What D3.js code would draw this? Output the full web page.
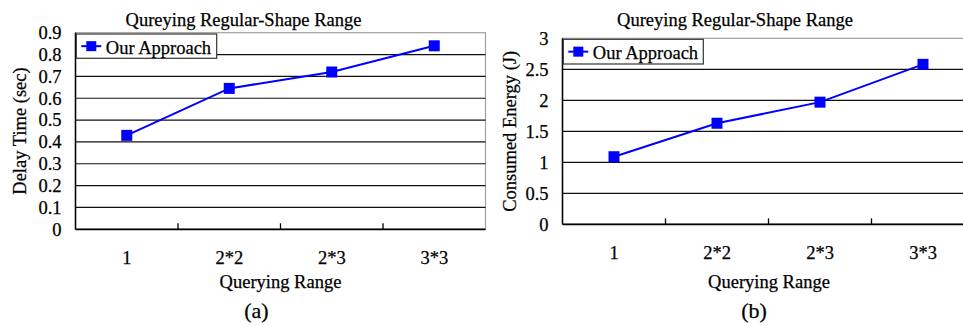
<!DOCTYPE html>
<html>
<head>
<meta charset="utf-8">
<script src="https://cdn.jsdelivr.net/npm/d3@7/dist/d3.min.js"></script>
<style>
  html, body { margin: 0; padding: 0; background: #fff; }
  svg { display: block; }
  svg text { font-family: "Liberation Serif", "Times New Roman", Tinos, "Nimbus Roman", "DejaVu Serif", serif !important; fill: #000; stroke: #000; stroke-width: 0.25px; }
</style>
</head>
<body>
<svg id="chart" width="963" height="326"></svg>
<script>
// Querying range categories shared by both panels
const categories = ["1", "2*2", "2*3", "3*3"];
// Panel (a): delay time in seconds
const delayTime = [0.43, 0.645, 0.72, 0.84];
const delayTicks = [0, 0.1, 0.2, 0.3, 0.4, 0.5, 0.6, 0.7, 0.8, 0.9];
// Panel (b): consumed energy in joules
const consumedEnergy = [1.09, 1.63, 1.97, 2.58];
const energyTicks = [0, 0.5, 1, 1.5, 2, 2.5, 3];

const seriesName = "Our Approach";
const chartTitle = "Qureying Regular-Shape Range";
const xTitle = "Querying Range";

const svg = d3.select("#chart");
const blue = "#0000ff";
const FS = "18.5px";

function drawPanel(cfg) {
  const g = svg.append("g");
  const x = d3.scaleBand().domain(categories).range([cfg.left, cfg.right]).padding(0);
  const y = d3.scaleLinear().domain([0, d3.max(cfg.ticks)]).range([cfg.bottom, cfg.top]);
  const cx = d => x(d) + x.bandwidth() / 2;

  // plot frame: light top/right border
  g.append("rect")
    .attr("x", cfg.left).attr("y", cfg.top)
    .attr("width", cfg.right - cfg.left).attr("height", cfg.bottom - cfg.top)
    .attr("fill", "#fff").attr("stroke", "#a0a0a0").attr("stroke-width", 1.2);

  // horizontal gridlines
  g.selectAll("line.grid").data(cfg.ticks.filter(t => t > 0 && t < d3.max(cfg.ticks)))
    .join("line").attr("class", "grid")
    .attr("x1", cfg.left).attr("x2", cfg.right)
    .attr("y1", d => y(d)).attr("y2", d => y(d))
    .attr("stroke", "#111").attr("stroke-width", 1.2);

  // y axis labels
  const yAxis = d3.axisLeft(y).tickValues(cfg.ticks).tickSize(0).tickPadding(14)
    .tickFormat(d => String(d));
  const ya = g.append("g").attr("transform", `translate(${cfg.left},0)`).call(yAxis)
    .attr("font-family", null).attr("font-size", null);
  ya.select(".domain").remove();
  ya.selectAll("text").style("font-size", FS);

  // x axis labels at category centres
  const xAxis = d3.axisBottom(x).tickSize(0).tickPadding(0);
  const xa = g.append("g").attr("transform", `translate(0,${cfg.bottom})`).call(xAxis)
    .attr("font-family", null).attr("font-size", null);
  xa.select(".domain").remove();
  xa.selectAll("text").attr("dy", null).attr("y", 34.5).style("font-size", FS);

  // tick marks at category boundaries, pointing inward
  g.selectAll("line.xt").data(categories.slice(1))
    .join("line").attr("class", "xt")
    .attr("x1", d => x(d)).attr("x2", d => x(d))
    .attr("y1", cfg.bottom).attr("y2", cfg.bottom - 6)
    .attr("stroke", "#000").attr("stroke-width", 1.3);

  // axis lines
  g.append("line").attr("x1", cfg.left).attr("x2", cfg.left)
    .attr("y1", cfg.top).attr("y2", cfg.bottom)
    .attr("stroke", "#000").attr("stroke-width", 1.5);
  g.append("line").attr("x1", cfg.left).attr("x2", cfg.right)
    .attr("y1", cfg.bottom).attr("y2", cfg.bottom)
    .attr("stroke", "#000").attr("stroke-width", 1.8);

  // series line and square markers
  const line = d3.line().x((d, i) => cx(categories[i])).y(d => y(d));
  g.append("path").datum(cfg.values).attr("d", line)
    .attr("fill", "none").attr("stroke", blue).attr("stroke-width", 2);
  const ms = 11;
  g.selectAll("rect.mk").data(cfg.values).join("rect").attr("class", "mk")
    .attr("x", (d, i) => cx(categories[i]) - ms / 2)
    .attr("y", d => y(d) - ms / 2)
    .attr("width", ms).attr("height", ms).attr("fill", blue);

  // legend
  const lg = cfg.legend;
  g.append("rect").attr("x", lg.x).attr("y", lg.y).attr("width", lg.w).attr("height", lg.h)
    .attr("fill", "#fff").attr("stroke", "#333").attr("stroke-width", 1.2);
  const ly = lg.y + lg.h / 2;
  g.append("line").attr("x1", lg.x + 5).attr("x2", lg.x + 25).attr("y1", ly).attr("y2", ly)
    .attr("stroke", blue).attr("stroke-width", 2);
  g.append("rect").attr("x", lg.x + 15 - 5).attr("y", ly - 5).attr("width", 10).attr("height", 10)
    .attr("fill", blue);
  g.append("text").attr("x", lg.x + 29.5).attr("y", ly + 7.5)
    .style("font-size", FS).text(seriesName);

  // titles
  g.append("text").attr("x", cfg.titleX).attr("y", 26).attr("text-anchor", "middle")
    .style("font-size", FS).text(chartTitle);
  g.append("text").attr("x", cfg.xTitleX).attr("y", 287.5).attr("text-anchor", "middle")
    .style("font-size", FS).text(xTitle);
  g.append("text").attr("transform", `translate(${cfg.yTitleX},${(cfg.top + cfg.bottom) / 2}) rotate(-90)`)
    .attr("text-anchor", "middle").style("font-size", FS).text(cfg.yTitle);
  g.append("text").attr("x", cfg.captionX).attr("y", 318).attr("text-anchor", "middle")
    .style("font-size", "22px").text(cfg.caption);
}

drawPanel({
  left: 75.5, right: 485.5, top: 32.7, bottom: 229.3,
  ticks: delayTicks, values: delayTime,
  legend: { x: 76.3, y: 34, w: 140.4, h: 24.3 },
  titleX: 243.5, xTitleX: 280.5, yTitleX: 25.5, captionX: 256.5,
  yTitle: "Delay Time (sec)", caption: "(a)"
});

drawPanel({
  left: 562.5, right: 974.5, top: 38.3, bottom: 224.3,
  ticks: energyTicks, values: consumedEnergy,
  legend: { x: 563.3, y: 39.3, w: 140, h: 24.7 },
  titleX: 735, xTitleX: 769, yTitleX: 515.5, captionX: 754,
  yTitle: "Consumed Energy (J)", caption: "(b)"
});
</script>
</body>
</html>
